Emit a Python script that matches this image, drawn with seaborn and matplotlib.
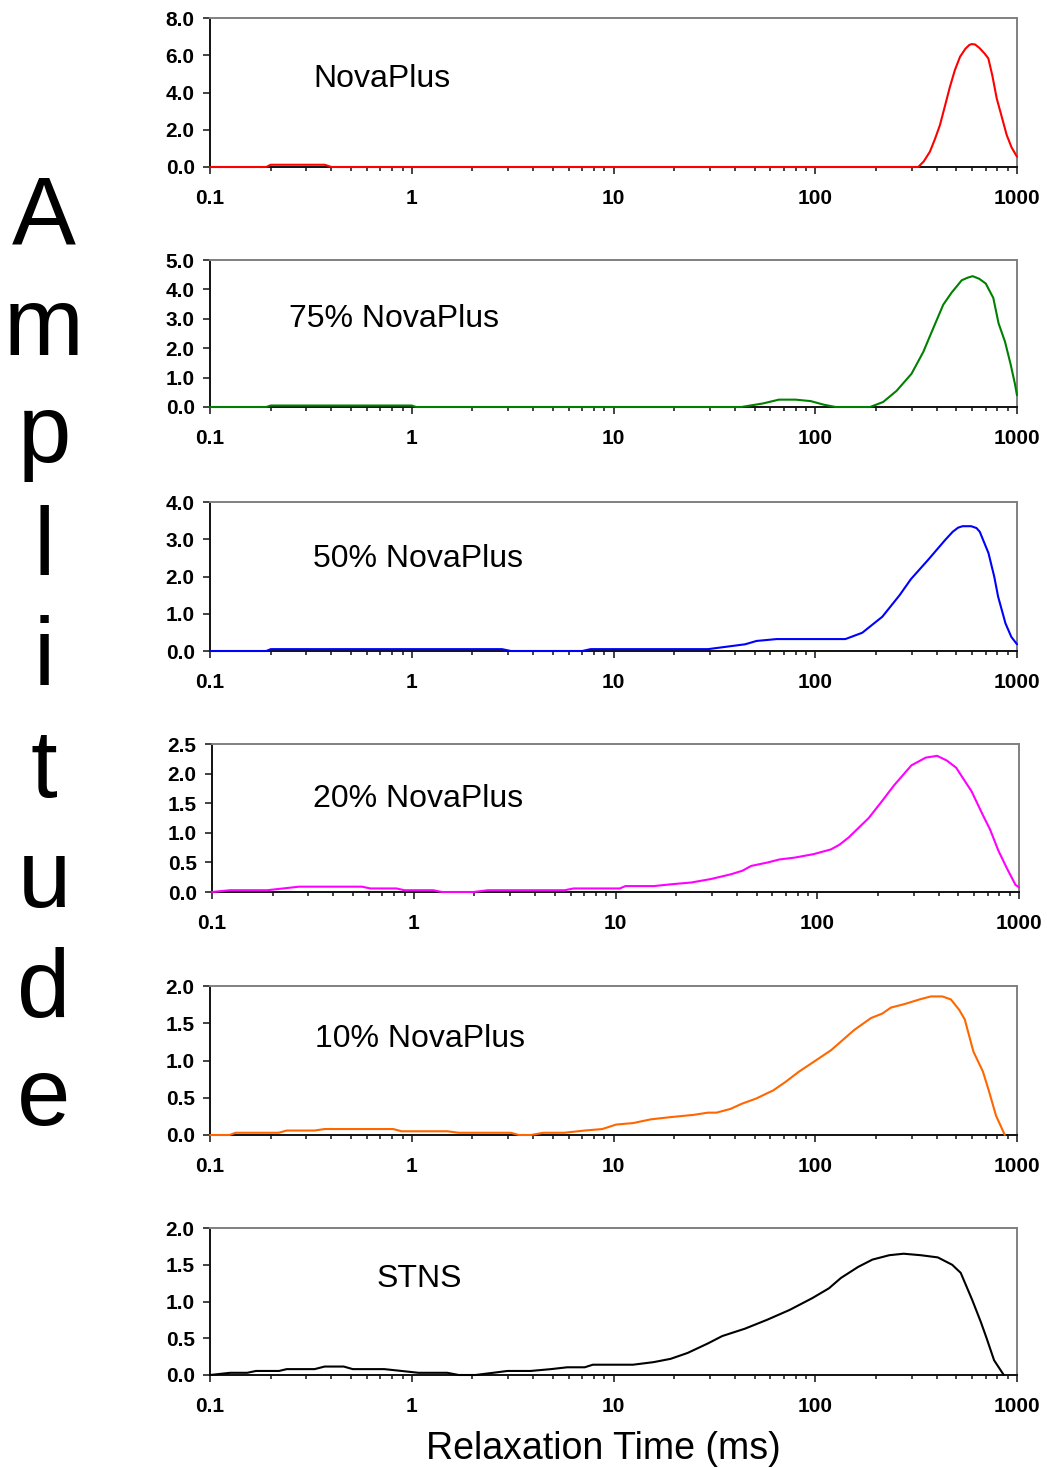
import numpy as np
import pandas as pd
import matplotlib
matplotlib.use("Agg")
import matplotlib.pyplot as plt
from matplotlib.ticker import FormatStrFormatter, LogLocator, NullFormatter
import seaborn as sns

# ---- T2 relaxation time distributions ----
labels = ["NovaPlus", "75% NovaPlus", "50% NovaPlus", "20% NovaPlus", "10% NovaPlus", "STNS"]
colors = ["#FF0000", "#008000", "#0000FF", "#FF00FF", "#FF6600", "#000000"]

t_nova = [0.1, 0.19, 0.2, 0.37, 0.4, 324, 345, 370, 392, 415, 440, 465, 492, 522, 555, 580,
          596, 619, 650, 690, 721, 755, 793, 840, 889, 940, 1000]
a_nova = [0, 0, 0.12, 0.12, 0, 0, 0.3, 0.82, 1.5, 2.25, 3.3, 4.3, 5.2, 5.92, 6.35, 6.55,
          6.6, 6.58, 6.4, 6.1, 5.83, 4.9, 3.69, 2.7, 1.72, 1.05, 0.55]

t_75 = [0.1, 0.19, 0.2, 1.0, 1.05, 43, 55, 66, 80, 95, 110, 126, 187, 217, 253, 300,
        343, 378, 431, 474, 532, 570, 603, 650, 700, 763, 810, 872, 930, 977, 1000]
a_75 = [0, 0, 0.05, 0.05, 0, 0, 0.12, 0.25, 0.25, 0.2, 0.08, 0, 0, 0.17, 0.55, 1.13,
        1.87, 2.56, 3.48, 3.89, 4.31, 4.4, 4.45, 4.36, 4.2, 3.71, 2.85, 2.22, 1.45, 0.78, 0.4]

t_50 = [0.1, 0.19, 0.2, 2.8, 3.1, 7.0, 7.7, 29.4, 44.9, 51.2, 64.4, 141, 171, 215, 262,
        298, 363, 442, 480, 510, 537, 593, 630, 654, 722, 771, 806, 877, 937, 1000]
a_50 = [0, 0, 0.05, 0.05, 0, 0, 0.05, 0.05, 0.18, 0.27, 0.32, 0.32, 0.49, 0.92, 1.5,
        1.93, 2.45, 2.99, 3.2, 3.31, 3.35, 3.35, 3.3, 3.2, 2.63, 2.0, 1.46, 0.74, 0.38, 0.18]

t_20 = [0.1, 0.123, 0.188, 0.27, 0.553, 0.61, 0.82, 0.9, 1.25, 1.38, 1.98, 2.33, 5.6,
        6.2, 10.5, 11.2, 15.5, 18.8, 23.7, 29.8, 37.4, 42.6, 47, 57, 65, 77, 96, 117,
        129, 143, 180, 211, 240, 293, 345, 393, 439, 488, 582, 662, 720, 790, 871, 961, 1000]
a_20 = [0, 0.03, 0.03, 0.09, 0.09, 0.06, 0.06, 0.03, 0.03, 0, 0, 0.03, 0.03,
        0.06, 0.06, 0.1, 0.1, 0.13, 0.16, 0.22, 0.3, 0.36, 0.44, 0.5, 0.55, 0.58, 0.64, 0.72,
        0.8, 0.92, 1.25, 1.55, 1.8, 2.14, 2.27, 2.3, 2.22, 2.1, 1.7, 1.3, 1.05, 0.7, 0.4, 0.12, 0.08]

t_10 = [0.1, 0.125, 0.134, 0.219, 0.24, 0.33, 0.37, 0.81, 0.89, 1.5, 1.71, 3.09, 3.4,
        3.9, 4.5, 5.7, 7.2, 8.8, 10.3, 12.5, 15.3, 19.2, 24.9, 29.4, 32.4, 38, 43.3, 51,
        62, 71, 83, 98, 120, 156, 189, 215, 237, 279, 329, 374, 427, 470, 517, 551, 608,
        678, 724, 787, 870]
a_10 = [0, 0, 0.03, 0.03, 0.06, 0.06, 0.08, 0.08, 0.05, 0.05, 0.03, 0.03, 0,
        0, 0.03, 0.03, 0.06, 0.08, 0.14, 0.16, 0.21, 0.24, 0.27, 0.3, 0.3, 0.35, 0.42, 0.49,
        0.6, 0.71, 0.85, 0.98, 1.14, 1.41, 1.57, 1.63, 1.71, 1.76, 1.82, 1.86, 1.86, 1.82, 1.68, 1.55, 1.12,
        0.85, 0.6, 0.26, 0]

t_stns = [0.1, 0.126, 0.153, 0.169, 0.22, 0.24, 0.33, 0.37, 0.46, 0.51, 0.73, 0.89,
          1.08, 1.5, 1.71, 2.07, 2.53, 2.98, 3.88, 4.9, 5.9, 7.2, 7.9, 12.5, 15.8, 19.2,
          23.3, 29.4, 34.6, 44.8, 57.6, 74.6, 96.7, 117, 134, 163, 192, 233, 274, 333,
          405, 477, 526, 600, 662, 707, 770, 860]
a_stns = [0, 0.03, 0.03, 0.055, 0.055, 0.08, 0.08, 0.115, 0.115, 0.08, 0.08, 0.055,
          0.03, 0.03, 0, 0, 0.03, 0.055, 0.055, 0.08, 0.105, 0.105, 0.14, 0.14, 0.175, 0.22,
          0.3, 0.43, 0.53, 0.63, 0.75, 0.885, 1.046, 1.18, 1.32, 1.47, 1.57, 1.63, 1.65, 1.63,
          1.6, 1.5, 1.39, 1.02, 0.72, 0.5, 0.2, 0]

times = [t_nova, t_75, t_50, t_20, t_10, t_stns]
amps = [a_nova, a_75, a_50, a_20, a_10, a_stns]

y_max = [8.0, 5.0, 4.0, 2.5, 2.0, 2.0]
y_step = [2.0, 1.0, 1.0, 0.5, 0.5, 0.5]
x_ticks = [0.1, 1, 10, 100, 1000]
x_ticklabels = ["0.1", "1", "10", "100", "1000"]

sns.set_theme(style="white")
plt.rcParams["font.family"] = ["Liberation Sans", "DejaVu Sans"]

W, H = 1047, 1468
fig = plt.figure(figsize=(W / 100, H / 100), dpi=100)

# panel frames in pixels: (left, top, right, bottom)
frames = [(210, 18, 1017, 167), (210, 260, 1017, 407), (210, 502, 1017, 651),
          (212, 744, 1019, 892), (210, 986, 1017, 1135), (210, 1228, 1017, 1375)]
label_pos = [(0.128, 0.537), (0.098, 0.544), (0.128, 0.564),
             (0.125, 0.574), (0.130, 0.590), (0.206, 0.599)]

for i in range(6):
    l, t, r, b = frames[i]
    ax = fig.add_axes([l / W, 1 - b / H, (r - l) / W, (b - t) / H])
    df = pd.DataFrame({"time": times[i], "amp": amps[i]})
    sns.lineplot(data=df, x="time", y="amp", ax=ax, color=colors[i],
                 linewidth=1.5, legend=False, clip_on=False, zorder=5)
    ax.set_xscale("log")
    ax.set_xlim(0.1, 1000)
    ax.set_ylim(0, y_max[i])
    ax.set_xticks(x_ticks)
    ax.set_xticklabels(x_ticklabels)
    ax.xaxis.set_minor_locator(LogLocator(base=10, subs=np.arange(2, 10)))
    ax.xaxis.set_minor_formatter(NullFormatter())
    ax.set_yticks(np.arange(0, y_max[i] + 1e-9, y_step[i]))
    ax.yaxis.set_major_formatter(FormatStrFormatter("%.1f"))
    ax.set_xlabel("")
    ax.set_ylabel("")
    ax.tick_params(axis="both", which="both", direction="out", color="#222222",
                   width=1.2, bottom=True, left=True, top=False, right=False)
    ax.tick_params(axis="x", which="major", length=5, pad=11)
    ax.tick_params(axis="x", which="minor", length=3)
    ax.tick_params(axis="y", which="major", length=5, pad=6)
    for lab in ax.get_xticklabels() + ax.get_yticklabels():
        lab.set_fontweight("bold")
        lab.set_fontsize(15)
        lab.set_color("black")
    for side in ["left", "bottom"]:
        ax.spines[side].set_color("#111111")
        ax.spines[side].set_linewidth(1.4)
    for side in ["top", "right"]:
        ax.spines[side].set_color("#808080")
        ax.spines[side].set_linewidth(1.4)
    ax.text(label_pos[i][0], label_pos[i][1], labels[i], transform=ax.transAxes,
            fontsize=23, ha="left", va="baseline", color="black")

# vertical axis title, one letter per row
baselines = [243, 355, 462, 575, 685, 797, 907, 1017, 1125]
for ch, yb in zip("Amplitude", baselines):
    fig.text(44 / W, 1 - yb / H, ch, fontsize=69, ha="center", va="baseline", color="black")

fig.text(603 / W, 1 - 1459 / H, "Relaxation Time (ms)", fontsize=27,
         ha="center", va="baseline", color="black")

fig.savefig("out.png", dpi=100)
